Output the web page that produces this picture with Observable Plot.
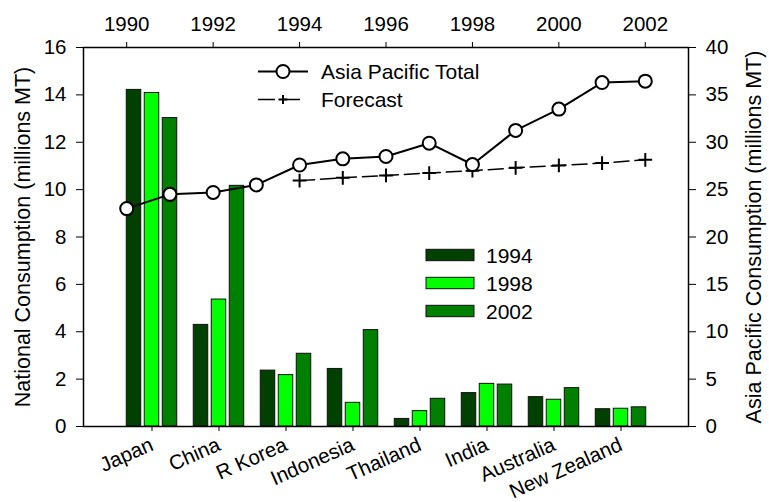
<!DOCTYPE html>
<html><head><meta charset="utf-8">
<script src="https://cdn.jsdelivr.net/npm/d3@7"></script>
<script src="https://cdn.jsdelivr.net/npm/@observablehq/plot@0.6"></script>
<style>
body{margin:0;background:#fff;}
#wrap{position:relative;width:769px;height:502px;font-family:"Liberation Sans",Arial,Helvetica,sans-serif;}
#wrap svg{position:absolute;left:0;top:0;overflow:visible;}
#wrap g[aria-label="y-axis label"] text, #wrap g[aria-label="y-axis label"]{font-size:21.5px;}
</style></head><body><div id="wrap"></div>
<script>
// ---- data ----
const countries = ["Japan","China","R Korea","Indonesia","Thailand","India","Australia","New Zealand"];
const barYears = ["1994","1998","2002"];
const v1994 = [14.21,4.29,2.36,2.43,0.32,1.41,1.24,0.73];
const v1998 = [14.08,5.36,2.17,1.00,0.65,1.80,1.13,0.75];
const v2002 = [13.02,10.16,3.07,4.07,1.17,1.77,1.62,0.81];
const barColors = ["#004000","#00ff00","#008000"];

const totalYears = [1990,1991,1992,1993,1994,1995,1996,1997,1998,1999,2000,2001,2002];
const totalValues = [23.0,24.5,24.7,25.5,27.6,28.25,28.5,29.9,27.65,31.25,33.5,36.3,36.45];
const forecastYears = [1994,1995,1996,1997,1998,1999,2000,2001,2002];
const forecastValues = [25.95,26.25,26.5,26.75,27.0,27.3,27.55,27.8,28.15];

const leftTicks = [0,2,4,6,8,10,12,14,16];
const rightTicks = [0,5,10,15,20,25,30,35,40];
const topTicks = [1990,1992,1994,1996,1998,2000,2002];

const leftLabel = "National Consumption (millions MT)";
const rightLabel = "Asia Pacific Consumption (millions MT)";
const lineNames = ["Asia Pacific Total","Forecast"];

// ---- tables ----
const seriesVals = [v1994, v1998, v2002];
const barTables = barYears.map((yr, j) => countries.map((c, i) => ({country: c, year: yr, value: seriesVals[j][i]})));
const total = totalYears.map((y, i) => ({year: y, value: totalValues[i]}));
const forecast = forecastYears.map((y, i) => ({year: y, value: forecastValues[i]}));

const W = 769, H = 502, ML = 83, MR = 81, MT = 47, MB = 76;
const FONT = "'Liberation Sans', Arial, Helvetica, sans-serif";
const style = {fontFamily: FONT, fontSize: "20.5px", background: "transparent", color: "#000", overflow: "visible"};

const barW = 14.7, barGap = 18, step = 605 / 9;
const barPlot = Plot.plot({
  width: W, height: H, marginLeft: ML, marginRight: MR, marginTop: MT, marginBottom: MB,
  style,
  x: {domain: countries, paddingInner: 0, paddingOuter: 0.5, label: null, tickRotate: -24, tickSize: 5, tickPadding: 12},
  y: {domain: [0, 16], ticks: leftTicks, label: leftLabel, labelAnchor: "center", labelArrow: "none", labelOffset: 69, tickSize: 7, tickPadding: 10},
  color: {domain: barYears, range: barColors},
  marks: barTables.map((tbl, j) => Plot.barY(tbl, {
    x: "country", y: "value", fill: "year", stroke: "#111", strokeWidth: 1,
    insetLeft: (step - barW) / 2, insetRight: (step - barW) / 2, dx: (j - 1) * barGap
  }))
});

const linePlot = Plot.plot({
  width: W, height: H, marginLeft: ML, marginRight: MR, marginTop: MT, marginBottom: MB,
  style,
  x: {domain: [1989, 2003], axis: "top", ticks: topTicks, tickFormat: d3.format("d"), label: null, tickSize: 6, tickPadding: 11},
  y: {domain: [0, 40], axis: "right", ticks: rightTicks, label: rightLabel, labelAnchor: "center", labelArrow: "none", labelOffset: 72, tickSize: 7, tickPadding: 10},
  marks: [
    Plot.frame({stroke: "#000", strokeWidth: 1.5}),
    Plot.line(forecast, {x: "year", y: "value", stroke: "#000", strokeWidth: 1.5, strokeDasharray: "15,6"}),
    Plot.dot(forecast, {x: "year", y: "value", symbol: "plus", r: 4.5, stroke: "#000", strokeWidth: 2}),
    Plot.line(total, {x: "year", y: "value", stroke: "#000", strokeWidth: 2}),
    Plot.dot(total, {x: "year", y: "value", r: 6.5, fill: "#fff", stroke: "#000", strokeWidth: 2})
  ]
});

const wrap = document.getElementById("wrap");
wrap.appendChild(barPlot);
wrap.appendChild(linePlot);

// ---- legends ----
const leg = d3.select(wrap).append("svg").attr("width", W).attr("height", H)
  .style("font-family", FONT).style("font-size", "21px");
const lg = leg.append("g");
lg.append("line").attr("x1", 258).attr("x2", 308).attr("y1", 71.5).attr("y2", 71.5).attr("stroke", "#000").attr("stroke-width", 2);
lg.append("circle").attr("cx", 283).attr("cy", 71.5).attr("r", 6.5).attr("fill", "#fff").attr("stroke", "#000").attr("stroke-width", 2);
lg.append("text").attr("x", 321).attr("y", 71.5).attr("dy", "0.35em").text(lineNames[0]);
lg.append("line").attr("x1", 258).attr("x2", 302).attr("y1", 99.5).attr("y2", 99.5).attr("stroke", "#000").attr("stroke-width", 1.5).attr("stroke-dasharray", "17,8");
lg.append("path").attr("d", "M278.5,99.5h9M283,95v9").attr("stroke", "#000").attr("stroke-width", 2);
lg.append("text").attr("x", 321).attr("y", 99.5).attr("dy", "0.35em").text(lineNames[1]);
barYears.forEach((yr, j) => {
  const cy = 255 + j * 28;
  leg.append("rect").attr("x", 426).attr("y", cy - 5.7).attr("width", 48).attr("height", 11.4)
    .attr("fill", barColors[j]).attr("stroke", "#111").attr("stroke-width", 1);
  leg.append("text").attr("x", 486).attr("y", cy).attr("dy", "0.36em").text(yr);
});
</script></body></html>
